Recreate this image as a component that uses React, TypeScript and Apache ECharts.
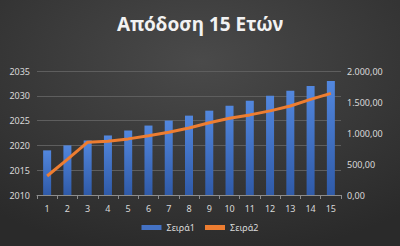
import React, { useEffect, useRef } from "react";
import * as echarts from "echarts";

const categories = ["1", "2", "3", "4", "5", "6", "7", "8", "9", "10", "11", "12", "13", "14", "15"];
const seira1 = [2019, 2020, 2021, 2022, 2023, 2024, 2025, 2026, 2027, 2028, 2029, 2030, 2031, 2032, 2033];
const seira2 = [306, 575, 852, 868, 905, 957, 1011, 1081, 1165, 1237, 1292, 1357, 1436, 1543, 1640];
const titleText = "Απόδοση 15 Ετών";
const seriesNames = ["Σειρά1", "Σειρά2"];

function fmtGreek(v: number): string {
  const fixed = v.toFixed(2);
  const [intPart, dec] = fixed.split(".");
  const withDots = intPart.replace(/\B(?=(\d{3})+(?!\d))/g, ".");
  return withDots + "," + dec;
}

export default function App() {
  const ref = useRef<HTMLDivElement>(null);
  useEffect(() => {
    if (!ref.current) return;
    const chart = echarts.init(ref.current, null, { renderer: "svg" });
    const font = "Noto Sans";
    const labelColor = "#d9d9d9";
    chart.setOption({
      animation: false,
      backgroundColor: {
        type: "radial",
        x: 0.5,
        y: 0.25,
        r: 0.8,
        colorStops: [
          { offset: 0, color: "#4a4a4a" },
          { offset: 1, color: "#2a2a2a" },
        ],
      },
      title: {
        text: titleText,
        left: "center",
        top: 9,
        textStyle: { color: "#f2f2f2", fontSize: 19, fontWeight: "bold", fontFamily: font },
      },
      legend: {
        bottom: 9,
        left: "center",
        itemGap: 10,
        symbolKeepAspect: false,
        textStyle: { color: labelColor, fontSize: 9, fontFamily: font },
        data: [
          { name: seriesNames[0], icon: "rect", itemStyle: { color: "#4472c4" } },
          { name: seriesNames[1], icon: "path://M0,2H24V5H0Z", itemStyle: { color: "#ed7d31" } },
        ],
        itemWidth: 20,
        itemHeight: 5,
      },
      grid: { left: 37, right: 59, top: 71, bottom: 51 },
      xAxis: {
        type: "category",
        data: categories,
        boundaryGap: true,
        axisLine: { lineStyle: { color: "#8c8c8c" } },
        axisTick: { show: true, length: 4, lineStyle: { color: "#8c8c8c" } },
        axisLabel: { color: labelColor, fontSize: 9, fontFamily: font, margin: 9 },
      },
      yAxis: [
        {
          type: "value",
          min: 2010,
          max: 2035,
          interval: 5,
          axisLine: { show: false },
          axisTick: { show: false },
          splitLine: { lineStyle: { color: "#5e5e5e", width: 1 } },
          axisLabel: {
            color: labelColor,
            fontSize: 9,
            fontFamily: font,
            margin: 7,
            formatter: (v: number) => String(v),
          },
        },
        {
          type: "value",
          min: 0,
          max: 2000,
          interval: 500,
          axisLine: { show: false },
          axisTick: { show: false },
          splitLine: { show: false },
          axisLabel: {
            color: labelColor,
            fontSize: 9,
            fontFamily: font,
            margin: 6,
            formatter: (v: number) => fmtGreek(v),
          },
        },
      ],
      series: [
        {
          name: seriesNames[0],
          type: "bar",
          data: seira1,
          barWidth: 8,
          yAxisIndex: 0,
          itemStyle: {
            color: {
              type: "linear",
              x: 0,
              y: 0,
              x2: 0,
              y2: 1,
              colorStops: [
                { offset: 0, color: "#5287de" },
                { offset: 1, color: "#2f5aa8" },
              ],
            },
          },
        },
        {
          name: seriesNames[1],
          type: "line",
          data: seira2,
          yAxisIndex: 1,
          showSymbol: false,
          symbol: "none",
          lineStyle: { color: "#ed7d31", width: 3 },
          itemStyle: { color: "#ed7d31" },
        },
      ],
    });
    return () => chart.dispose();
  }, []);
  return (
    <div
      ref={ref}
      style={{ position: "absolute", left: 0, top: 0, width: 400, height: 246 }}
    />
  );
}
